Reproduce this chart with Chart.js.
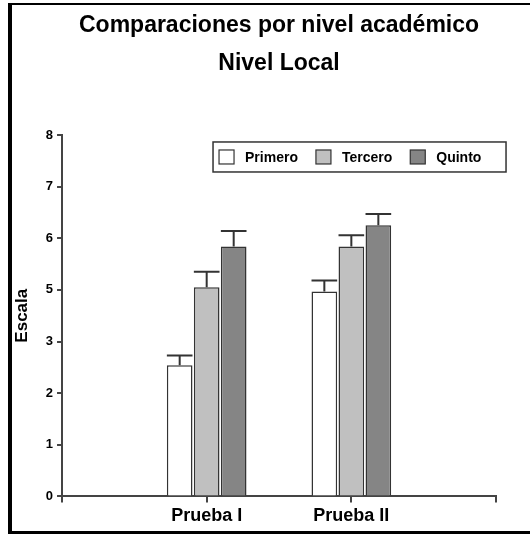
<!DOCTYPE html>
<html>
<head>
<meta charset="utf-8">
<script src="https://cdn.jsdelivr.net/npm/chart.js@4"></script>
<style>
  html, body { margin: 0; padding: 0; background: #fff; overflow: hidden; }
  .frame {
    position: absolute; left: 8px; top: 3px; width: 518px; height: 526px;
    border-left: 4px solid #000; border-top: 2px solid #000; border-bottom: 3px solid #000;
  }
  canvas { display: block; }
</style>
</head>
<body>
<div class="frame"><canvas id="chart" width="518" height="526" style="width:518px;height:526px"></canvas></div>
<script>
const categories = ["Prueba I", "Prueba II"];
const seriesNames = ["Primero", "Tercero", "Quinto"];

// values in axis steps (the printed scale skips "4", see yTickLabels)
const primero = [2.54, 3.97];
const tercero = [4.05, 4.84];
const quinto = [4.84, 5.25];

// upper error bar lengths
const primeroErr = [0.19, 0.21];
const terceroErr = [0.30, 0.22];
const quintoErr = [0.30, 0.22];

const yTickLabels = ["0", "1", "2", "3", "5", "6", "7", "8"];
const colors = ["#ffffff", "#c0c0c0", "#858585"];

const FONT = "'Liberation Sans', Arial, sans-serif";
Chart.defaults.font.family = FONT;
Chart.defaults.color = "#000";

// empty slot each side so the groups sit at 1/3 and 2/3 of the axis
const pad = (arr) => [null, ...arr, null];

// only the upper whisker, like the original
const errorBars = {
  id: "errorBars",
  afterDatasetsDraw(chart) {
    const { ctx } = chart;
    const y = chart.scales.y;
    ctx.save();
    ctx.strokeStyle = "#333";
    ctx.lineWidth = 2;
    chart.data.datasets.forEach((ds, i) => {
      chart.getDatasetMeta(i).data.forEach((bar, j) => {
        const v = ds.data[j];
        if (v == null) return;
        const top = y.getPixelForValue(v + ds.errors[j]);
        const half = bar.width / 2;
        ctx.beginPath();
        ctx.moveTo(bar.x, bar.y);
        ctx.lineTo(bar.x, top);
        ctx.moveTo(bar.x - half, top);
        ctx.lineTo(bar.x + half, top);
        ctx.stroke();
      });
    });
    ctx.restore();
  }
};

// boxed legend sitting inside the plot area
const boxLegend = {
  id: "boxLegend",
  afterDraw(chart, args, opts) {
    const { ctx, chartArea } = chart;
    const left = chartArea.left + opts.x;
    const top = chartArea.top + opts.y;
    const cy = top + opts.height / 2;
    ctx.save();
    ctx.strokeStyle = "#333";
    ctx.lineWidth = 1.5;
    ctx.strokeRect(left, top, opts.width, opts.height);
    ctx.font = "bold 14px " + FONT;
    ctx.textBaseline = "middle";
    let x = left + 6;
    chart.data.datasets.forEach((ds) => {
      ctx.fillStyle = ds.backgroundColor;
      ctx.fillRect(x, cy - 7, 15, 14);
      ctx.lineWidth = 1.2;
      ctx.strokeRect(x, cy - 7, 15, 14);
      ctx.fillStyle = "#000";
      ctx.fillText(ds.label, x + 26, cy + 1);
      x += 26 + ctx.measureText(ds.label).width + 18;
    });
    ctx.restore();
  }
};

const dataSeries = [primero, tercero, quinto];
const errSeries = [primeroErr, terceroErr, quintoErr];

new Chart(document.getElementById("chart"), {
  type: "bar",
  data: {
    labels: pad(categories).map((c) => c || ""),
    datasets: seriesNames.map((name, i) => ({
      label: name,
      data: pad(dataSeries[i]),
      errors: pad(errSeries[i]),
      backgroundColor: colors[i],
      borderColor: "#333",
      borderWidth: 1.5,
      categoryPercentage: 0.56,
      barPercentage: 0.95
    }))
  },
  options: {
    responsive: false,
    animation: false,
    layout: { padding: { left: 0, right: 34, top: 0, bottom: 1 } },
    plugins: {
      legend: { display: false },
      tooltip: { enabled: false },
      title: {
        display: true,
        fullSize: false,
        text: ["Comparaciones por nivel académico", "Nivel Local"],
        color: "#000",
        font: { size: 23, weight: "bold", lineHeight: 1.63 },
        padding: { top: 2, bottom: 53 }
      },
      boxLegend: { x: 151, y: 7, width: 293, height: 30 }
    },
    scales: {
      x: {
        offset: false,
        grid: { offset: false, drawOnChartArea: false, tickLength: 6, color: "#444", lineWidth: 2 },
        border: { color: "#444", width: 2 },
        ticks: { color: "#000", padding: 3, autoSkip: false, maxRotation: 0, font: { size: 18, weight: "bold" } }
      },
      y: {
        min: 0,
        max: 7,
        grid: { drawOnChartArea: false, tickLength: 5, color: "#444", lineWidth: 2 },
        border: { color: "#444", width: 2 },
        ticks: {
          stepSize: 1,
          padding: 4,
          color: "#000",
          font: { size: 13, weight: "bold" },
          callback: (v) => yTickLabels[v]
        },
        title: {
          display: true,
          text: "Escala",
          color: "#000",
          font: { size: 17, weight: "bold" },
          padding: { top: 0, bottom: 9.4 }
        }
      }
    }
  },
  plugins: [errorBars, boxLegend]
});
</script>
</body>
</html>
